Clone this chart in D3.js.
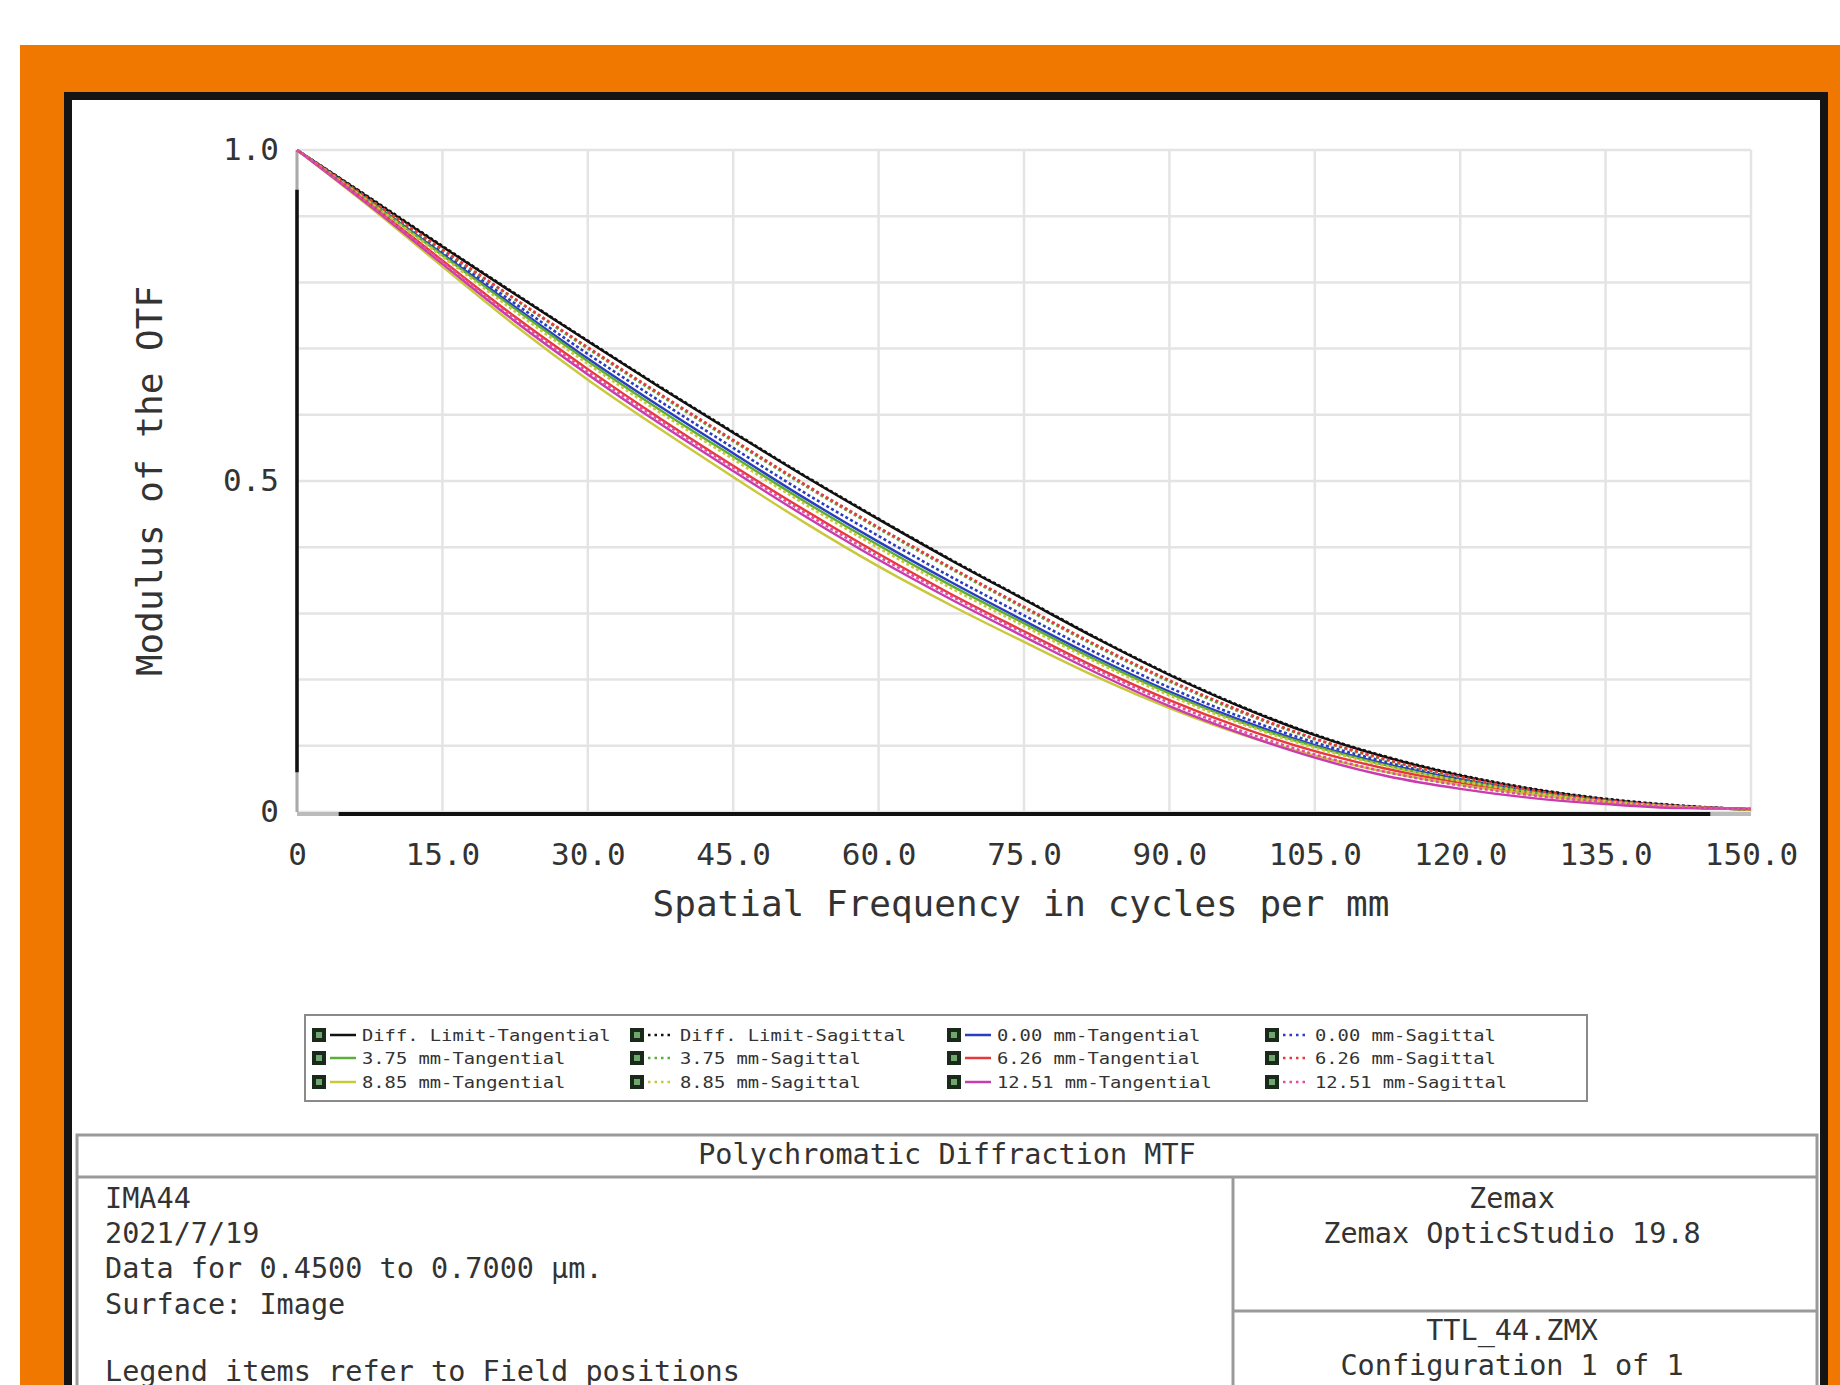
<!DOCTYPE html>
<html><head><meta charset="utf-8">
<script src="https://cdn.jsdelivr.net/npm/d3@7"></script>
<style>html,body{margin:0;padding:0;background:#fff;} svg{display:block;}</style>
</head><body>
<svg id="c" width="1840" height="1385"></svg>
<script>
// ---------- data ----------
const freq = [0,7.5,15,22.5,30,37.5,45,52.5,60,67.5,75,82.5,90,97.5,105,112.5,120,127.5,135,142.5,150];

const diffT  = [1.000,0.927,0.854,0.782,0.711,0.641,0.573,0.506,0.442,0.380,0.321,0.262,0.207,0.158,0.116,0.082,0.055,0.034,0.019,0.009,0.004];
const diffS  = [1.000,0.928,0.855,0.783,0.712,0.642,0.574,0.507,0.443,0.381,0.322,0.263,0.208,0.159,0.117,0.083,0.056,0.035,0.020,0.010,0.004];
const f000T  = [1.000,0.923,0.843,0.763,0.685,0.612,0.542,0.473,0.408,0.347,0.289,0.233,0.182,0.138,0.101,0.072,0.049,0.030,0.017,0.008,0.004];
const f000S  = [1.000,0.924,0.846,0.768,0.692,0.620,0.550,0.481,0.417,0.355,0.297,0.240,0.188,0.143,0.105,0.075,0.050,0.031,0.017,0.008,0.004];
const f375T  = [1.000,0.922,0.841,0.760,0.681,0.607,0.537,0.468,0.403,0.342,0.285,0.229,0.179,0.135,0.099,0.070,0.047,0.029,0.016,0.008,0.004];
const f375S  = [1.000,0.925,0.849,0.774,0.700,0.629,0.560,0.492,0.428,0.367,0.308,0.250,0.197,0.150,0.110,0.078,0.052,0.032,0.018,0.008,0.004];
const f626T  = [1.000,0.919,0.833,0.748,0.669,0.594,0.523,0.455,0.390,0.329,0.273,0.218,0.169,0.127,0.092,0.065,0.044,0.027,0.015,0.007,0.004];
const f626S  = [1.000,0.925,0.850,0.775,0.702,0.631,0.562,0.494,0.430,0.369,0.310,0.252,0.199,0.152,0.111,0.079,0.053,0.033,0.018,0.009,0.004];
const f885T  = [1.000,0.914,0.824,0.735,0.653,0.578,0.506,0.436,0.371,0.312,0.257,0.204,0.157,0.117,0.085,0.060,0.041,0.026,0.015,0.007,0.004];
const f885S  = [1.000,0.921,0.839,0.756,0.677,0.603,0.533,0.464,0.399,0.338,0.281,0.226,0.176,0.133,0.097,0.069,0.047,0.029,0.016,0.008,0.004];
const f1251T = [1.000,0.916,0.828,0.741,0.661,0.586,0.515,0.446,0.381,0.321,0.265,0.210,0.160,0.118,0.082,0.054,0.035,0.021,0.012,0.006,0.005];
const f1251S = [1.000,0.918,0.831,0.745,0.665,0.591,0.520,0.451,0.386,0.326,0.270,0.215,0.165,0.122,0.087,0.060,0.040,0.025,0.015,0.008,0.005];

const seriesNames = ["Diff. Limit-Tangential","Diff. Limit-Sagittal","0.00 mm-Tangential","0.00 mm-Sagittal",
  "3.75 mm-Tangential","3.75 mm-Sagittal","6.26 mm-Tangential","6.26 mm-Sagittal",
  "8.85 mm-Tangential","8.85 mm-Sagittal","12.51 mm-Tangential","12.51 mm-Sagittal"];
const seriesValues = [diffT,diffS,f000T,f000S,f375T,f375S,f626T,f626S,f885T,f885S,f1251T,f1251S];

const xTicks = [0,15,30,45,60,75,90,105,120,135,150];
const xTickLabels = ["0","15.0","30.0","45.0","60.0","75.0","90.0","105.0","120.0","135.0","150.0"];
const yTicks = [0,0.5,1.0];
const yTickLabels = ["0","0.5","1.0"];
const yGrid = [0,0.1,0.2,0.3,0.4,0.5,0.6,0.7,0.8,0.9,1.0];

const infoLeft = ["IMA44","2021/7/19","Data for 0.4500 to 0.7000 µm.","Surface: Image","","Legend items refer to Field positions"];
const infoRight1 = ["Zemax","Zemax OpticStudio 19.8"];
const infoRight2 = ["TTL_44.ZMX","Configuration 1 of 1"];

// ---------- styles ----------
const colors = ["#111111","#111111","#2a3cc0","#2a3cc0","#5aae3c","#5aae3c","#e8383c","#e8383c","#c9c83a","#c9c83a","#c83cae","#e0509e"];
const MONO = "'DejaVu Sans Mono','Liberation Mono',monospace";

const svg = d3.select("#c");

// frame
svg.append("rect").attr("x",0).attr("y",0).attr("width",1840).attr("height",1385).attr("fill","#fff");
svg.append("rect").attr("x",20).attr("y",45).attr("width",1820).attr("height",1340).attr("fill","#f07800");
svg.append("rect").attr("x",64).attr("y",92).attr("width",1764).attr("height",1300).attr("fill","#141414");
svg.append("rect").attr("x",72).attr("y",100).attr("width",1748).attr("height",1290).attr("fill","#fff");

const x = d3.scaleLinear().domain([0,150]).range([297,1751]);
const y = d3.scaleLinear().domain([0,1]).range([812,150]);

// grid
const g = svg.append("g");
g.selectAll("line.vg").data(xTicks).join("line")
  .attr("x1",d=>x(d)).attr("x2",d=>x(d)).attr("y1",y(1)).attr("y2",y(0))
  .attr("stroke","#e4e4e4").attr("stroke-width",2.5);
g.selectAll("line.hg").data(yGrid).join("line")
  .attr("x1",x(0)).attr("x2",x(150)).attr("y1",d=>y(d)).attr("y2",d=>y(d))
  .attr("stroke","#e4e4e4").attr("stroke-width",2.5);

// axis lines
g.append("line").attr("x1",x(0)).attr("x2",x(0)).attr("y1",y(1)).attr("y2",y(0)).attr("stroke","#aaa").attr("stroke-width",3);
g.append("line").attr("x1",x(0)).attr("x2",x(0)).attr("y1",y(0.94)).attr("y2",y(0.06)).attr("stroke","#111").attr("stroke-width",3.5);
g.append("line").attr("x1",x(0)).attr("x2",x(150)).attr("y1",y(0)+2).attr("y2",y(0)+2).attr("stroke","#bbb").attr("stroke-width",4);
g.append("line").attr("x1",x(4.3)).attr("x2",x(145.8)).attr("y1",y(0)+2).attr("y2",y(0)+2).attr("stroke","#111").attr("stroke-width",4);

// curves
const line = d3.line().x(d=>x(d[0])).y(d=>y(d[1])).curve(d3.curveMonotoneX);
seriesValues.forEach((vals,i)=>{
  const pts = freq.map((f,k)=>[f,vals[k]]);
  svg.append("path").attr("d",line(pts)).attr("fill","none")
    .attr("stroke",colors[i]).attr("stroke-width", i%2===1 ? 2.6 : 2.4)
    .attr("stroke-dasharray", i%2===1 ? "3,2.5" : null);
});

// x axis labels
const xAxis = d3.axisBottom(x).tickValues(xTicks).tickFormat((d,i)=>xTickLabels[i]).tickSize(0).tickPadding(0);
const xa = svg.append("g").attr("transform","translate(0,840)").call(xAxis);
xa.select(".domain").remove();
xa.selectAll("text").attr("font-family",MONO).attr("font-size",31).attr("fill","#333").attr("dy","0.8em");

const yAxis = d3.axisLeft(y).tickValues(yTicks).tickFormat((d,i)=>yTickLabels[i]).tickSize(0).tickPadding(0);
const ya = svg.append("g").attr("transform","translate(279,0)").call(yAxis);
ya.select(".domain").remove();
ya.selectAll("text").attr("font-family",MONO).attr("font-size",31).attr("fill","#333");

svg.append("text").attr("x",(x(0)+x(150))/2 - 3).attr("y",916).attr("text-anchor","middle")
  .attr("font-family",MONO).attr("font-size",36).attr("fill","#333").text("Spatial Frequency in cycles per mm");
svg.append("text").attr("transform","translate(162,481) rotate(-90)").attr("text-anchor","middle")
  .attr("font-family",MONO).attr("font-size",36).attr("fill","#333").text("Modulus of the OTF");

// legend
svg.append("rect").attr("x",305).attr("y",1015).attr("width",1282).attr("height",86)
  .attr("fill","#fff").attr("stroke","#8a8a8a").attr("stroke-width",2);
const colX = [312,630,947,1265], rowY = [1035,1058,1082];
seriesNames.forEach((name,i)=>{
  const cx = colX[i%4], cy = rowY[Math.floor(i/4)];
  const lg = svg.append("g");
  lg.append("rect").attr("x",cx).attr("y",cy-7).attr("width",14).attr("height",14).attr("fill","#1a2a1a");
  lg.append("rect").attr("x",cx+4).attr("y",cy-3).attr("width",6).attr("height",6).attr("fill","#6fa86f");
  lg.append("line").attr("x1",cx+18).attr("x2",cx+44).attr("y1",cy).attr("y2",cy)
    .attr("stroke",colors[i]).attr("stroke-width",2.5).attr("stroke-dasharray", i%2===1 ? "2.5,4" : null);
  lg.append("text").attr("x",cx+50).attr("y",cy+6).attr("font-family",MONO).attr("font-size",16)
    .attr("fill","#333").attr("textLength",name.length*11.3).attr("lengthAdjust","spacingAndGlyphs").text(name);
});

// info table
const tb = svg.append("g");
tb.append("rect").attr("x",77).attr("y",1135).attr("width",1740).attr("height",300).attr("fill","#fff")
  .attr("stroke","#9a9a9a").attr("stroke-width",3);
tb.append("line").attr("x1",77).attr("x2",1817).attr("y1",1177).attr("y2",1177).attr("stroke","#9a9a9a").attr("stroke-width",3);
tb.append("line").attr("x1",1233).attr("x2",1233).attr("y1",1177).attr("y2",1400).attr("stroke","#9a9a9a").attr("stroke-width",3);
tb.append("line").attr("x1",1233).attr("x2",1817).attr("y1",1311).attr("y2",1311).attr("stroke","#9a9a9a").attr("stroke-width",3);
const tfont = (s)=>s.attr("font-family",MONO).attr("font-size",28.5).attr("fill","#333");
tfont(tb.append("text").attr("x",947).attr("y",1164).attr("text-anchor","middle").text("Polychromatic Diffraction MTF"));
const leftY = [1208,1243,1278,1314,1348,1381];
infoLeft.forEach((t,i)=>{ if(t) tfont(tb.append("text").attr("x",105).attr("y",leftY[i]).text(t)); });
[1208,1243].forEach((yy,i)=>tfont(tb.append("text").attr("x",1512).attr("y",yy).attr("text-anchor","middle").text(infoRight1[i])));
[1340,1375].forEach((yy,i)=>tfont(tb.append("text").attr("x",1512).attr("y",yy).attr("text-anchor","middle").text(infoRight2[i])));
</script>
</body></html>
